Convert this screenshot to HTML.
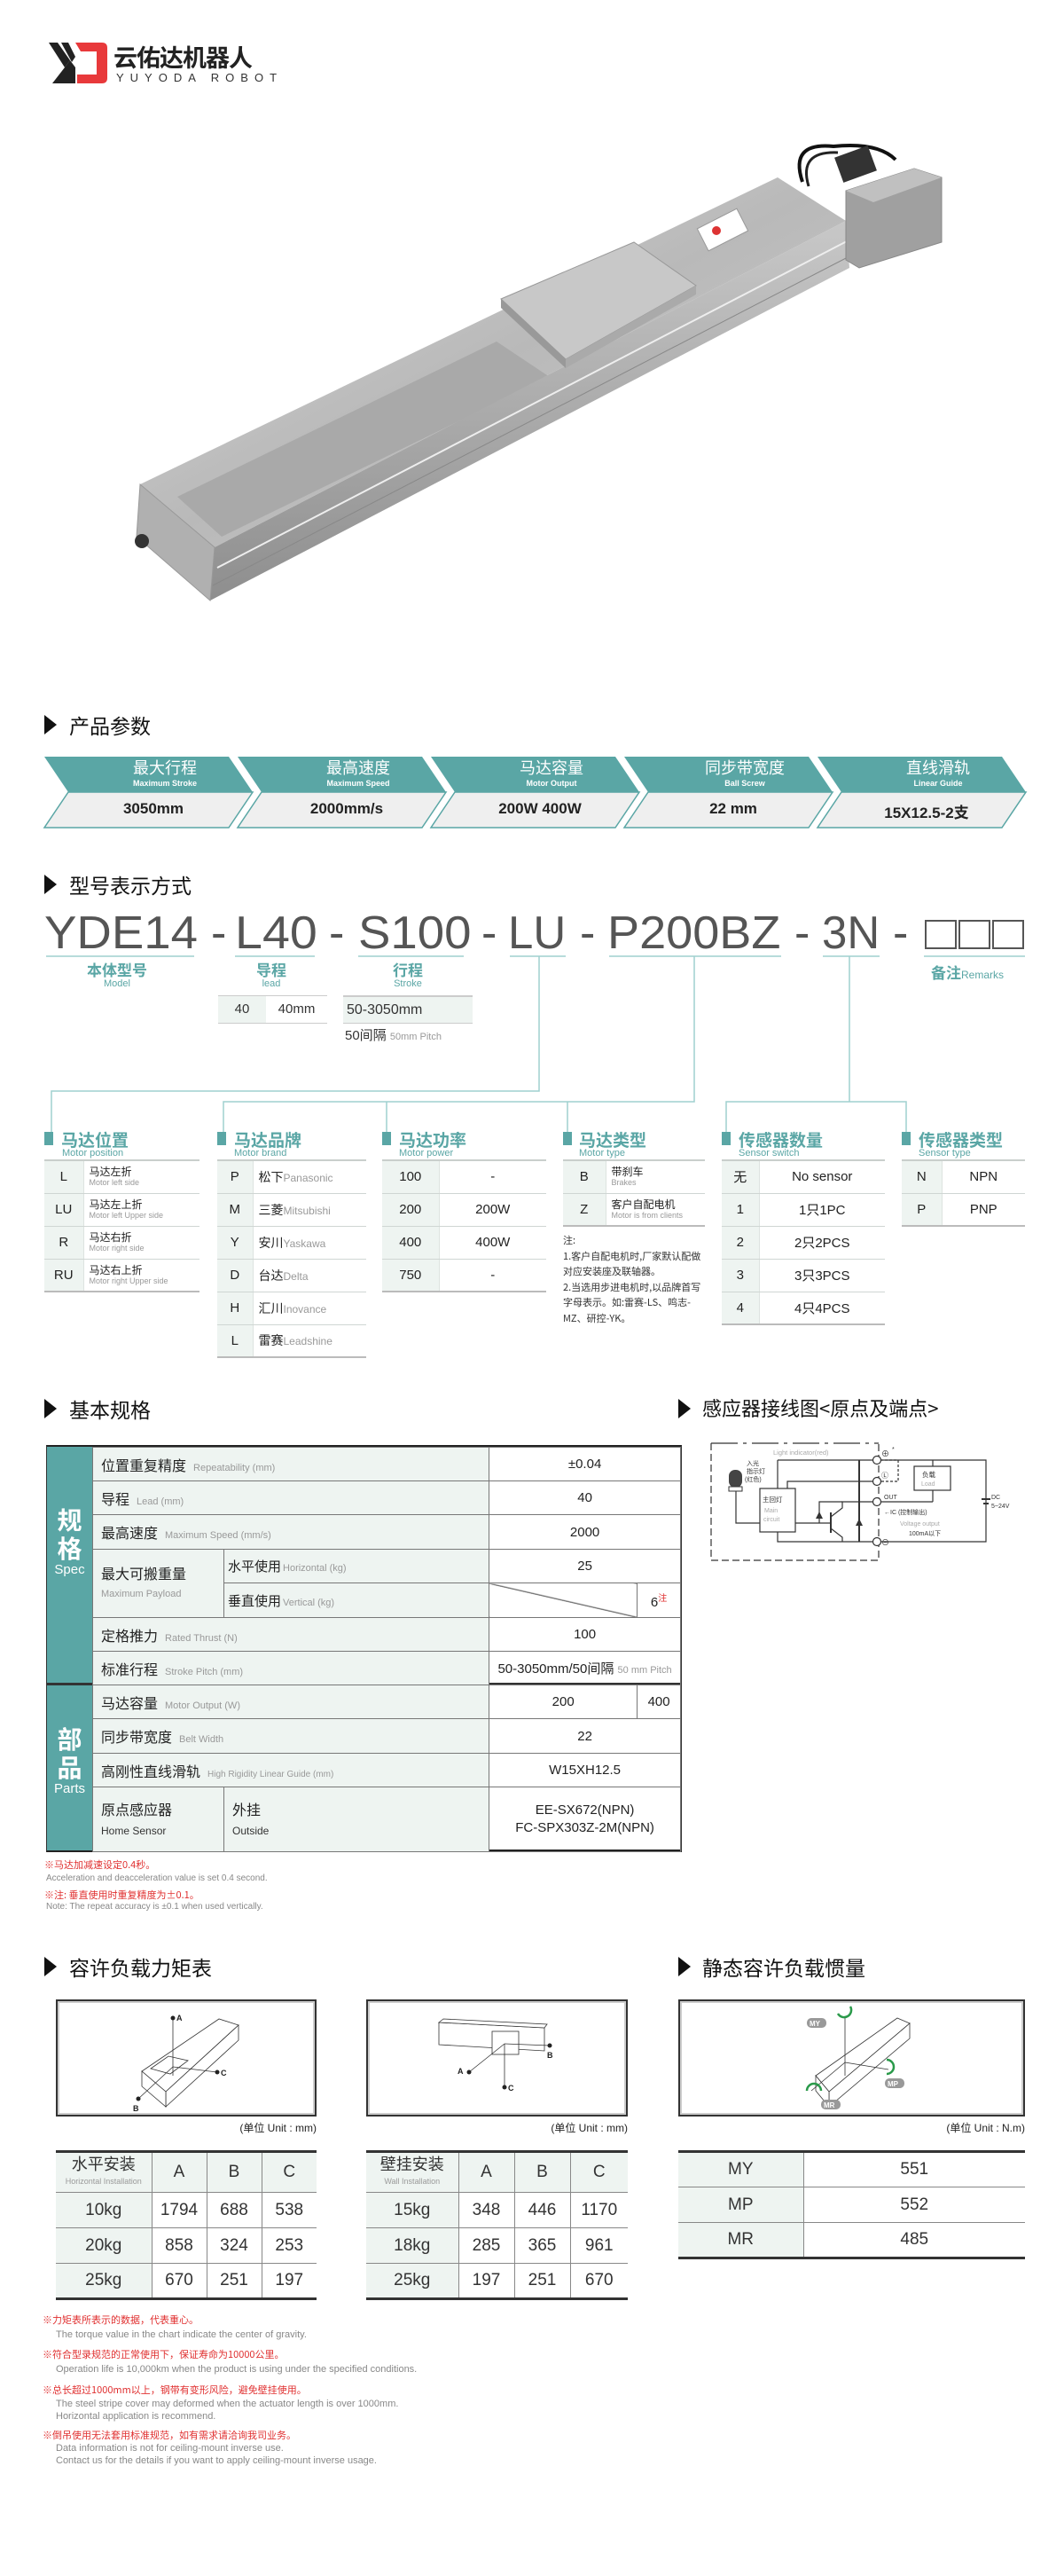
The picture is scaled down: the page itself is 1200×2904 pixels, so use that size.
<!DOCTYPE html>
<html><head><meta charset="utf-8">
<style>
*{margin:0;padding:0;box-sizing:border-box}
body{width:1200px;height:2904px;background:#fff;position:relative;font-family:"Liberation Sans","Noto Sans CJK SC",sans-serif;color:#222;overflow:hidden}
.a{position:absolute;white-space:nowrap}
.tt{font-size:23px;color:#111;font-family:"Noto Sans CJK SC",sans-serif}
.tri{position:absolute;width:0;height:0;border-top:11px solid transparent;border-bottom:11px solid transparent;border-left:14px solid #111}
.hd{font-family:"Noto Sans CJK SC",sans-serif;font-weight:bold;font-size:19px;color:#5aa6a5}
.hde{font-size:11px;color:#5aa6a5}
.mk{position:absolute;width:10px;height:15px;background:#5aa6a5}
table{border-collapse:collapse;position:absolute}
.mt td{border-bottom:1px solid #cfd6d3;height:37px;font-size:15px;vertical-align:middle}
.mt{border-top:2px solid #c9cfcc;border-bottom:2px solid #bbb}
.mt td.c{background:#eef4f1;text-align:center;border-right:1px solid #dde3e0}
.mt .cn{font-family:"Noto Sans CJK SC",sans-serif;font-size:12px;line-height:14px;display:block;color:#222}
.mt .en{font-size:9px;color:#999;display:block;line-height:11px}
.st td{border:1px solid #777;font-size:15px;text-align:center;vertical-align:middle}
.st td.l{background:#eef4f1;text-align:left;padding-left:9px;font-family:"Noto Sans CJK SC",sans-serif;font-size:16px}
.st .e{font-family:"Liberation Sans",sans-serif;font-size:11px;color:#999;margin-left:8px}
.lt td{border-bottom:1px solid #888;border-right:1px solid #888;text-align:center;font-size:19px;color:#333;height:40px}
.lt td.g{background:#eef4f1}
.lt{border-top:3px solid #333;border-bottom:3px solid #333}
.note{font-size:11px;color:#888;position:absolute;white-space:nowrap}
.red{color:#e03030;font-family:"Noto Sans CJK SC",sans-serif}
.ms span{position:absolute;transform-origin:0 0}
</style></head><body>

<!-- logo -->
<svg class="a" style="left:55px;top:46px" width="70" height="50" viewBox="0 0 70 50">
<polygon points="0,2 10,2 24,22 18,30" fill="#222"/>
<polygon points="14,2 22,2 30,18 26,24" fill="#222"/>
<polygon points="18,30 24,22 30,30 30,48 4,48" fill="#222"/>
<path d="M30 2 H60 Q66 2 66 8 V42 Q66 48 60 48 H32 V38 H54 V12 H36 Z" fill="#e8393b"/>
</svg>
<div class="a" style="left:128px;top:44px;font-size:27px;font-weight:bold;font-family:'Noto Sans CJK SC',sans-serif;color:#222;letter-spacing:-1px">云佑达机器人</div>
<div class="a" style="left:131px;top:80px;font-size:13px;letter-spacing:7px;color:#333">YUYODA ROBOT</div>

<!-- actuator -->
<svg class="a" style="left:0;top:0" width="1200" height="760">
<defs>
<linearGradient id="g1" x1="0" y1="0" x2="1" y2="1"><stop offset="0" stop-color="#d8d8d8"/><stop offset="0.5" stop-color="#b9b9b9"/><stop offset="1" stop-color="#cfcfcf"/></linearGradient>
<linearGradient id="g2" x1="0" y1="0" x2="0" y2="1"><stop offset="0" stop-color="#c8c8c8"/><stop offset="1" stop-color="#8e8e8e"/></linearGradient>
</defs>
<polygon points="158,546 877,200 954,249 242,617" fill="url(#g1)"/>
<polygon points="200,560 560,385 620,425 250,605" fill="#a9a9a9"/>
<polygon points="242,617 954,249 958,302 237,677" fill="url(#g2)"/>
<line x1="245" y1="640" x2="955" y2="272" stroke="#eee" stroke-width="2"/>
<line x1="240" y1="660" x2="956" y2="290" stroke="#888" stroke-width="1"/>
<polygon points="158,546 242,617 237,677 154,605" fill="#b0b0b0" stroke="#999"/>
<circle cx="160" cy="610" r="8" fill="#333"/>
<polygon points="565,337 715,273 785,322 638,405" fill="#c8c8c8" stroke="#999"/>
<polygon points="565,337 638,405 638,415 565,347" fill="#999"/>
<polygon points="638,405 785,322 785,332 638,415" fill="#aaa"/>
<rect x="790" y="245" width="50" height="28" fill="#fff" stroke="#999" transform="rotate(-27 815 259)"/>
<circle cx="808" cy="260" r="5" fill="#d33"/>
<polygon points="954,215 1031,190 1062,200 1062,273 969,302 954,293" fill="#a0a0a0" stroke="#888"/>
<polygon points="954,215 1031,190 1062,200 985,228" fill="#c0c0c0"/>
<path d="M905 205 Q890 160 940 165 Q990 160 1010 180" stroke="#111" stroke-width="4" fill="none"/>
<path d="M912 210 Q900 170 945 172" stroke="#222" stroke-width="3" fill="none"/>
<rect x="945" y="170" width="40" height="30" fill="#333" transform="rotate(-20 965 185)"/>
</svg>

<!-- 产品参数 -->
<div class="tri" style="left:50px;top:806px"></div>
<div class="a tt" style="left:78px;top:800px">产品参数</div>
<svg class="a" style="left:0;top:840px" width="1200" height="100">
<g transform="translate(0,-840)">
<g id="ch">
<polygon points="50,853 258,853 285,893 77,893" fill="#5aa6a5"/>
<polygon points="77,893 285,893 258,933 50,933" fill="#efefef" stroke="#5aa6a5" stroke-width="1.5"/>
</g>
<use href="#ch" x="218"/><use href="#ch" x="436"/><use href="#ch" x="654"/><use href="#ch" x="872"/>
</g></svg>
<div class="a" style="left:50px;top:852px;width:1090px;height:82px">
<div style="display:flex;position:absolute;left:27px;top:0">
<div style="width:218px;text-align:center;color:#fff"><div style="font-family:'Noto Sans CJK SC';font-size:18px;line-height:26px">最大行程</div><div style="font-size:9px;font-weight:bold">Maximum Stroke</div></div>
<div style="width:218px;text-align:center;color:#fff"><div style="font-family:'Noto Sans CJK SC';font-size:18px;line-height:26px">最高速度</div><div style="font-size:9px;font-weight:bold">Maximum Speed</div></div>
<div style="width:218px;text-align:center;color:#fff"><div style="font-family:'Noto Sans CJK SC';font-size:18px;line-height:26px">马达容量</div><div style="font-size:9px;font-weight:bold">Motor Output</div></div>
<div style="width:218px;text-align:center;color:#fff"><div style="font-family:'Noto Sans CJK SC';font-size:18px;line-height:26px">同步带宽度</div><div style="font-size:9px;font-weight:bold">Ball Screw</div></div>
<div style="width:218px;text-align:center;color:#fff"><div style="font-family:'Noto Sans CJK SC';font-size:18px;line-height:26px">直线滑轨</div><div style="font-size:9px;font-weight:bold">Linear Guide</div></div>
</div>
<div style="display:flex;position:absolute;left:14px;top:50px;font-size:17px;font-weight:bold;color:#222">
<div style="width:218px;text-align:center">3050mm</div>
<div style="width:218px;text-align:center">2000mm/s</div>
<div style="width:218px;text-align:center">200W 400W</div>
<div style="width:218px;text-align:center">22 mm</div>
<div style="width:218px;text-align:center;font-family:'Liberation Sans','Noto Sans CJK SC'">15X12.5-2支</div>
</div>
</div>

<!-- 型号表示方式 -->
<div class="tri" style="left:50px;top:986px"></div>
<div class="a tt" style="left:78px;top:980px">型号表示方式</div>
<div class="a ms" style="left:0;top:1024px;font-size:52px;color:#555;line-height:56px">
<span style="left:50px;transform:scaleX(1.05)">YDE14</span>
<span style="left:238px">-</span>
<span style="left:265px;transform:scaleX(1.07)">L40</span>
<span style="left:371px">-</span>
<span style="left:404px;transform:scaleX(1.05)">S100</span>
<span style="left:543px">-</span>
<span style="left:573px;transform:scaleX(0.98)">LU</span>
<span style="left:654px">-</span>
<span style="left:685px;transform:scaleX(1.04)">P200BZ</span>
<span style="left:896px">-</span>
<span style="left:927px;transform:scaleX(0.98)">3N</span>
<span style="left:1007px">-</span>
</div>
<div class="a" style="left:1043px;top:1037px;width:36px;height:33px;border:2px solid #555"></div>
<div class="a" style="left:1081px;top:1037px;width:36px;height:33px;border:2px solid #555"></div>
<div class="a" style="left:1119px;top:1037px;width:36px;height:33px;border:2px solid #555"></div>
<svg class="a" style="left:0;top:0" width="1200" height="1300">
<g stroke="#9fd0cf" stroke-width="1.5" fill="none">
<line x1="52" y1="1078" x2="219" y2="1078"/><line x1="265" y1="1078" x2="355" y2="1078"/>
<line x1="404" y1="1078" x2="523" y2="1078"/><line x1="575" y1="1078" x2="638" y2="1078"/>
<line x1="687" y1="1078" x2="881" y2="1078"/><line x1="928" y1="1078" x2="992" y2="1078"/>
<line x1="1042" y1="1078" x2="1156" y2="1078"/>
<polyline points="608,1078 608,1230 58,1230 58,1277"/>
<polyline points="783,1078 783,1242 252,1242 252,1277"/>
<line x1="436" y1="1242" x2="436" y2="1277"/><line x1="640" y1="1242" x2="640" y2="1277"/>
<polyline points="958,1078 958,1242"/>
<polyline points="819,1277 819,1242 1022,1242 1022,1277"/>
</g></svg>
<div class="a" style="left:92px;top:1083px;width:80px;text-align:center"><div class="hd" style="font-size:17px;line-height:20px">本体型号</div><div class="hde">Model</div></div>
<div class="a" style="left:276px;top:1083px;width:60px;text-align:center"><div class="hd" style="font-size:17px;line-height:20px">导程</div><div class="hde">lead</div></div>
<div class="a" style="left:430px;top:1083px;width:60px;text-align:center"><div class="hd" style="font-size:17px;line-height:20px">行程</div><div class="hde">Stroke</div></div>
<div class="a" style="left:1050px;top:1083px"><span class="hd" style="font-size:17px">备注</span><span class="hde" style="font-size:12px">Remarks</span></div>
<div class="a" style="left:246px;top:1122px;width:54px;height:32px;background:#eef4f1;border-top:1px solid #ccc;border-bottom:1px solid #ccc;text-align:center;line-height:30px;font-size:15px;color:#333">40</div>
<div class="a" style="left:300px;top:1122px;width:69px;height:32px;border-top:1px solid #ccc;border-bottom:1px solid #ccc;text-align:center;line-height:30px;font-size:15px;color:#333">40mm</div>
<div class="a" style="left:387px;top:1122px;width:146px;height:32px;background:#eef4f1;border-top:2px solid #ccc;border-bottom:1px solid #ccc;padding-left:4px;line-height:30px;font-size:16px;color:#333">50-3050mm</div>
<div class="a" style="left:389px;top:1156px;font-size:15px;color:#333;font-family:'Liberation Sans','Noto Sans CJK SC'">50间隔 <span style="font-size:11px;color:#999">50mm Pitch</span></div>

<!-- option headers -->
<div class="mk" style="left:50px;top:1276px"></div><div class="a hd" style="left:69px;top:1271px">马达位置</div><div class="a hde" style="left:70px;top:1294px">Motor position</div>
<div class="mk" style="left:245px;top:1276px"></div><div class="a hd" style="left:264px;top:1271px">马达品牌</div><div class="a hde" style="left:264px;top:1294px">Motor brand</div>
<div class="mk" style="left:431px;top:1276px"></div><div class="a hd" style="left:450px;top:1271px">马达功率</div><div class="a hde" style="left:450px;top:1294px">Motor power</div>
<div class="mk" style="left:635px;top:1276px"></div><div class="a hd" style="left:653px;top:1271px">马达类型</div><div class="a hde" style="left:653px;top:1294px">Motor type</div>
<div class="mk" style="left:814px;top:1276px"></div><div class="a hd" style="left:833px;top:1271px">传感器数量</div><div class="a hde" style="left:833px;top:1294px">Sensor switch</div>
<div class="mk" style="left:1017px;top:1276px"></div><div class="a hd" style="left:1036px;top:1271px">传感器类型</div><div class="a hde" style="left:1036px;top:1294px">Sensor type</div>

<table class="mt" style="left:50px;top:1307px;width:175px">
<tr><td class="c" style="width:44px">L</td><td style="padding-left:6px"><span class="cn">马达左折</span><span class="en">Motor left side</span></td></tr>
<tr><td class="c">LU</td><td style="padding-left:6px"><span class="cn">马达左上折</span><span class="en">Motor left Upper side</span></td></tr>
<tr><td class="c">R</td><td style="padding-left:6px"><span class="cn">马达右折</span><span class="en">Motor right side</span></td></tr>
<tr><td class="c">RU</td><td style="padding-left:6px"><span class="cn">马达右上折</span><span class="en">Motor right Upper side</span></td></tr>
</table>
<table class="mt" style="left:245px;top:1307px;width:168px">
<tr><td class="c" style="width:40px">P</td><td style="padding-left:6px"><span style="font-family:'Noto Sans CJK SC';font-size:14px">松下</span><span style="font-size:12px;color:#999">Panasonic</span></td></tr>
<tr><td class="c">M</td><td style="padding-left:6px"><span style="font-family:'Noto Sans CJK SC';font-size:14px">三菱</span><span style="font-size:12px;color:#999">Mitsubishi</span></td></tr>
<tr><td class="c">Y</td><td style="padding-left:6px"><span style="font-family:'Noto Sans CJK SC';font-size:14px">安川</span><span style="font-size:12px;color:#999">Yaskawa</span></td></tr>
<tr><td class="c">D</td><td style="padding-left:6px"><span style="font-family:'Noto Sans CJK SC';font-size:14px">台达</span><span style="font-size:12px;color:#999">Delta</span></td></tr>
<tr><td class="c">H</td><td style="padding-left:6px"><span style="font-family:'Noto Sans CJK SC';font-size:14px">汇川</span><span style="font-size:12px;color:#999">Inovance</span></td></tr>
<tr><td class="c">L</td><td style="padding-left:6px"><span style="font-family:'Noto Sans CJK SC';font-size:14px">雷赛</span><span style="font-size:12px;color:#999">Leadshine</span></td></tr>
</table>
<table class="mt" style="left:431px;top:1307px;width:185px">
<tr><td class="c" style="width:64px">100</td><td style="text-align:center">-</td></tr>
<tr><td class="c">200</td><td style="text-align:center">200W</td></tr>
<tr><td class="c">400</td><td style="text-align:center">400W</td></tr>
<tr><td class="c">750</td><td style="text-align:center">-</td></tr>
</table>
<table class="mt" style="left:635px;top:1307px;width:160px">
<tr><td class="c" style="width:48px">B</td><td style="padding-left:6px"><span class="cn">带刹车</span><span class="en">Brakes</span></td></tr>
<tr><td class="c">Z</td><td style="padding-left:6px"><span class="cn">客户自配电机</span><span class="en">Motor is from clients</span></td></tr>
</table>
<div class="a" style="left:635px;top:1390px;font-family:'Noto Sans CJK SC';font-size:11px;line-height:17.5px;color:#333;white-space:normal;width:165px">注:<br>1.客户自配电机时,厂家默认配做对应安装座及联轴器。<br>2.当选用步进电机时,以品牌首写字母表示。如:雷赛-LS、鸣志-MZ、研控-YK。</div>
<table class="mt" style="left:814px;top:1307px;width:184px">
<tr><td class="c" style="width:42px;font-family:'Noto Sans CJK SC'">无</td><td style="text-align:center">No sensor</td></tr>
<tr><td class="c">1</td><td style="text-align:center;font-family:'Liberation Sans','Noto Sans CJK SC'">1只1PC</td></tr>
<tr><td class="c">2</td><td style="text-align:center;font-family:'Liberation Sans','Noto Sans CJK SC'">2只2PCS</td></tr>
<tr><td class="c">3</td><td style="text-align:center;font-family:'Liberation Sans','Noto Sans CJK SC'">3只3PCS</td></tr>
<tr><td class="c">4</td><td style="text-align:center;font-family:'Liberation Sans','Noto Sans CJK SC'">4只4PCS</td></tr>
</table>
<table class="mt" style="left:1017px;top:1307px;width:139px">
<tr><td class="c" style="width:45px">N</td><td style="text-align:center">NPN</td></tr>
<tr><td class="c">P</td><td style="text-align:center">PNP</td></tr>
</table>

<!-- 基本规格 -->
<div class="tri" style="left:50px;top:1577px"></div>
<div class="a tt" style="left:78px;top:1571px">基本规格</div>
<div class="tri" style="left:765px;top:1577px"></div>
<div class="a tt" style="left:792px;top:1571px;font-size:22px">感应器接线图&lt;原点及端点&gt;</div>

<div class="a" style="left:52px;top:1629px;width:717px;height:459px;border-top:3px solid #222;border-bottom:3px solid #222;border-left:2px solid #333;border-right:2px solid #333"></div>
<div class="a" style="left:53px;top:1631px;width:51px;height:267px;background:#5aa6a5;color:#fff;text-align:center;padding-top:66px">
<div style="font-family:'Noto Sans CJK SC';font-weight:bold;font-size:28px;line-height:32px">规<br>格</div><div style="font-size:15px">Spec</div></div>
<div class="a" style="left:53px;top:1900px;width:51px;height:186px;background:#5aa6a5;color:#fff;text-align:center;padding-top:44px">
<div style="font-family:'Noto Sans CJK SC';font-weight:bold;font-size:28px;line-height:32px">部<br>品</div><div style="font-size:15px">Parts</div></div>
<div class="a" style="left:52px;top:1897px;width:717px;height:3px;background:#333"></div>
<table class="st" style="left:104px;top:1631px;width:664px">
<tr style="height:38px"><td class="l" colspan="2" style="width:333px">位置重复精度<span class="e">Repeatability (mm)</span></td><td colspan="2">±0.04</td></tr>
<tr style="height:38px"><td class="l" colspan="2">导程<span class="e">Lead (mm)</span></td><td colspan="2">40</td></tr>
<tr style="height:39px"><td class="l" colspan="2">最高速度<span class="e">Maximum Speed (mm/s)</span></td><td colspan="2">2000</td></tr>
<tr style="height:38px"><td class="l" rowspan="2" style="width:148px;line-height:20px">最大可搬重量<br><span class="e" style="margin:0">Maximum Payload</span></td><td class="l" style="font-size:15px;padding-left:4px">水平使用<span class="e" style="margin-left:2px">Horizontal (kg)</span></td><td colspan="2">25</td></tr>
<tr style="height:39px"><td class="l" style="font-size:15px;padding-left:4px">垂直使用<span class="e" style="margin-left:2px">Vertical (kg)</span></td><td style="width:167px;background:linear-gradient(to top right,transparent 49%,#555 50%,transparent 52%)"></td><td>6<sup style="color:#e03030;font-size:10px;font-family:'Noto Sans CJK SC'">注</sup></td></tr>
<tr style="height:38px"><td class="l" colspan="2">定格推力<span class="e">Rated Thrust (N)</span></td><td colspan="2">100</td></tr>
<tr style="height:38px"><td class="l" colspan="2">标准行程<span class="e">Stroke Pitch (mm)</span></td><td colspan="2" style="font-family:'Liberation Sans','Noto Sans CJK SC'">50-3050mm/50间隔 <span style="font-size:11px;color:#999">50 mm Pitch</span></td></tr>
<tr style="height:38px"><td class="l" colspan="2">马达容量<span class="e">Motor Output (W)</span></td><td>200</td><td>400</td></tr>
<tr style="height:39px"><td class="l" colspan="2">同步带宽度<span class="e">Belt Width</span></td><td colspan="2">22</td></tr>
<tr style="height:38px"><td class="l" colspan="2">高刚性直线滑轨<span class="e" style="font-size:10px">High Rigidity Linear Guide (mm)</span></td><td colspan="2">W15XH12.5</td></tr>
<tr style="height:73px"><td class="l" style="line-height:22px">原点感应器<br><span style="font-family:'Liberation Sans';font-size:12px;color:#333">Home Sensor</span></td><td class="l" style="line-height:22px">外挂<br><span style="font-family:'Liberation Sans';font-size:12px;color:#333">Outside</span></td><td colspan="2" style="line-height:20px">EE-SX672(NPN)<br>FC-SPX303Z-2M(NPN)</td></tr>
</table>
<div class="note red" style="left:50px;top:2094px;font-size:11px">※马达加减速设定0.4秒。</div>
<div class="note" style="left:52px;top:2112px;font-size:10px">Acceleration and deacceleration value is set 0.4 second.</div>
<div class="note red" style="left:50px;top:2128px;font-size:11px">※注: 垂直使用时重复精度为±0.1。</div>
<div class="note" style="left:52px;top:2144px;font-size:10px">Note: The repeat accuracy is ±0.1 when used vertically.</div>

<!-- wiring -->
<svg class="a" style="left:0;top:0" width="1200" height="1800" font-family="Liberation Sans,Noto Sans CJK SC,sans-serif">
<g stroke="#333" stroke-width="1.2" fill="none">
<polyline points="802,1627 802,1759 991,1759 991,1627" stroke-dasharray="8,4"/>
<line x1="802" y1="1627" x2="991" y2="1627" stroke-dasharray="30,6,4,6"/>
<polyline points="993,1646 1112,1646 1112,1738 993,1738"/>
<line x1="989" y1="1693" x2="1052" y2="1693"/><line x1="1052" y1="1646" x2="1052" y2="1653"/><line x1="1052" y1="1680" x2="1052" y2="1693"/>
<rect x="1031" y="1653" width="41" height="27"/>
<polyline points="993,1646 1013,1646 1013,1670 993,1670" stroke-dasharray="3,2"/>
<line x1="877" y1="1646" x2="985" y2="1646"/><line x1="877" y1="1646" x2="877" y2="1678"/>
<polyline points="888,1678 888,1670 985,1670"/>
<rect x="857" y="1678" width="40" height="49"/>
<polyline points="830,1681 830,1717 857,1717"/>
<polyline points="877,1727 877,1738 985,1738"/>
<line x1="897" y1="1717" x2="937" y2="1717"/>
<line x1="937" y1="1705" x2="937" y2="1728" stroke-width="2"/>
<polyline points="937,1710 950,1700 950,1693 985,1693"/>
<polyline points="937,1723 950,1733 950,1738"/>
<polyline points="924,1717 924,1693 950,1693"/>
<line x1="969" y1="1646" x2="969" y2="1738" stroke-width="2"/>
</g>
<g fill="#fff" stroke="#333" stroke-width="1.2"><circle cx="989" cy="1646" r="4.5"/><circle cx="989" cy="1670" r="4.5"/><circle cx="989" cy="1693" r="4.5"/><circle cx="989" cy="1738" r="4.5"/></g>
<polygon points="920,1712 928,1712 924,1704" fill="#333"/><polygon points="965,1720 973,1720 969,1712" fill="#333"/>
<rect x="822" y="1657" width="15" height="20" rx="7" fill="#444"/><rect x="822" y="1676" width="15" height="5" fill="#fff" stroke="#333"/>
<line x1="1107" y1="1690" x2="1117" y2="1690" stroke="#333" stroke-width="2"/><line x1="1109" y1="1695" x2="1115" y2="1695" stroke="#333" stroke-width="2"/>
<g font-size="7" fill="#333">
<text x="872" y="1640" fill="#aaa" font-size="7.5">Light indicator(red)</text>
<text x="842" y="1652" font-size="7">入光</text><text x="842" y="1661">指示灯</text><text x="840" y="1670">(红色)</text>
<text x="860" y="1693" font-size="7.5">主回灯</text><text x="862" y="1705" fill="#aaa">Main</text><text x="861" y="1715" fill="#aaa">circuit</text>
<text x="1040" y="1665" font-size="7.5">负载</text><text x="1039" y="1675" fill="#aaa">Load</text>
<text x="997" y="1690">OUT</text><text x="997" y="1707">←IC (控制输出)</text>
<text x="1015" y="1720" fill="#aaa">Voltage output</text><text x="1025" y="1731">100mA以下</text>
<text x="1118" y="1690">DC</text><text x="1118" y="1700">5~24V</text>
<text x="994" y="1642" font-size="9">⊕</text><text x="1006" y="1636">*</text><text x="994" y="1666" font-size="8">Ⓛ</text><text x="994" y="1742" font-size="9">⊖</text>
</g>
</svg>

<!-- 容许负载力矩表 -->
<div class="tri" style="left:50px;top:2206px"></div>
<div class="a tt" style="left:78px;top:2200px">容许负载力矩表</div>
<div class="tri" style="left:765px;top:2206px"></div>
<div class="a tt" style="left:792px;top:2200px">静态容许负载惯量</div>
<div class="a" style="left:63px;top:2254px;width:294px;height:132px;border:2px solid #333;box-shadow:inset 0 0 0 2px #ccc"></div>
<div class="a" style="left:413px;top:2254px;width:295px;height:132px;border:2px solid #333;box-shadow:inset 0 0 0 2px #ccc"></div>
<div class="a" style="left:765px;top:2254px;width:391px;height:132px;border:2px solid #333;box-shadow:inset 0 0 0 2px #ccc"></div>
<svg class="a" style="left:0;top:0" width="1200" height="2400" font-family="Liberation Sans,sans-serif" font-size="9" font-weight="bold">
<g stroke="#333" stroke-width="0.8" fill="#fff">
<polygon points="160,2335 247,2276 269,2283 187,2358"/>
<polygon points="187,2358 269,2283 269,2300 187,2375"/>
<polygon points="160,2335 187,2358 187,2375 160,2352"/>
<polygon points="170,2332 190,2318 212,2323 192,2338"/>
<line x1="195" y1="2340" x2="195" y2="2275"/><line x1="195" y1="2330" x2="245" y2="2336"/><line x1="195" y1="2330" x2="156" y2="2366"/>
<polygon points="495,2280 614,2286 614,2312 495,2305"/>
<polygon points="495,2280 500,2276 617,2282 614,2286"/>
<rect x="555" y="2290" width="30" height="26"/>
<line x1="569" y1="2304" x2="620" y2="2306"/><line x1="569" y1="2304" x2="529" y2="2336"/><line x1="569" y1="2304" x2="569" y2="2353"/>
<polygon points="920,2340 1012,2275 1026,2281 935,2358"/>
<polygon points="935,2358 1026,2281 1026,2298 935,2375"/>
<polygon points="920,2340 935,2358 935,2375 920,2357"/>
<line x1="953" y1="2340" x2="953" y2="2275"/><line x1="953" y1="2325" x2="1002" y2="2333"/><line x1="953" y1="2325" x2="915" y2="2357"/>
</g>
<g fill="#222"><circle cx="195" cy="2275" r="2.5"/><circle cx="245" cy="2336" r="2.5"/><circle cx="156" cy="2366" r="2.5"/>
<circle cx="620" cy="2306" r="2.5"/><circle cx="529" cy="2336" r="2.5"/><circle cx="569" cy="2353" r="2.5"/>
<text x="199" y="2278">A</text><text x="249" y="2340">C</text><text x="150" y="2380">B</text>
<text x="617" y="2320">B</text><text x="516" y="2338">A</text><text x="573" y="2357">C</text></g>
<g fill="none" stroke="#2a9a4a" stroke-width="2.5"><path d="M945 2270 a8 8 0 1 0 14 -8"/><path d="M1000 2322 a8 8 0 1 1 0 16"/><path d="M910 2357 a8 8 0 1 1 16 0"/></g>
<g font-size="8" fill="#fff"><rect x="910" y="2275" width="22" height="11" rx="5" fill="#999"/><text x="913" y="2284">MY</text>
<rect x="998" y="2343" width="22" height="11" rx="5" fill="#999"/><text x="1001" y="2352">MP</text>
<rect x="926" y="2367" width="22" height="11" rx="5" fill="#999"/><text x="929" y="2376">MR</text></g>
</svg>
<div class="a" style="left:247px;top:2390px;width:110px;text-align:right;font-size:12px;font-family:'Liberation Sans','Noto Sans CJK SC'">(单位 Unit : mm)</div>
<div class="a" style="left:598px;top:2390px;width:110px;text-align:right;font-size:12px;font-family:'Liberation Sans','Noto Sans CJK SC'">(单位 Unit : mm)</div>
<div class="a" style="left:1026px;top:2390px;width:130px;text-align:right;font-size:12px;font-family:'Liberation Sans','Noto Sans CJK SC'">(单位 Unit : N.m)</div>

<table class="lt" style="left:63px;top:2424px;width:294px">
<tr style="height:46px"><td class="g" style="width:108px;line-height:16px"><span style="font-family:'Noto Sans CJK SC';font-size:18px">水平安装</span><br><span style="font-size:9px;color:#999">Horizontal Installation</span></td><td class="g" style="width:62px">A</td><td class="g" style="width:62px">B</td><td class="g" style="border-right:0">C</td></tr>
<tr><td class="g">10kg</td><td>1794</td><td>688</td><td style="border-right:0">538</td></tr>
<tr><td class="g">20kg</td><td>858</td><td>324</td><td style="border-right:0">253</td></tr>
<tr><td class="g" style="border-bottom:0">25kg</td><td style="border-bottom:0">670</td><td style="border-bottom:0">251</td><td style="border:0">197</td></tr>
</table>
<table class="lt" style="left:413px;top:2424px;width:295px">
<tr style="height:46px"><td class="g" style="width:104px;line-height:16px"><span style="font-family:'Noto Sans CJK SC';font-size:18px">壁挂安装</span><br><span style="font-size:9px;color:#999">Wall Installation</span></td><td class="g" style="width:63px">A</td><td class="g" style="width:63px">B</td><td class="g" style="border-right:0">C</td></tr>
<tr><td class="g">15kg</td><td>348</td><td>446</td><td style="border-right:0">1170</td></tr>
<tr><td class="g">18kg</td><td>285</td><td>365</td><td style="border-right:0">961</td></tr>
<tr><td class="g" style="border-bottom:0">25kg</td><td style="border-bottom:0">197</td><td style="border-bottom:0">251</td><td style="border:0">670</td></tr>
</table>
<table class="lt" style="left:765px;top:2424px;width:391px">
<tr style="height:36px"><td class="g" style="width:141px">MY</td><td style="border-right:0">551</td></tr>
<tr style="height:36px"><td class="g">MP</td><td style="border-right:0">552</td></tr>
<tr style="height:36px"><td class="g" style="border-bottom:0">MR</td><td style="border:0">485</td></tr>
</table>

<div class="note red" style="left:48px;top:2607px">※力矩表所表示的数据，代表重心。</div>
<div class="note" style="left:63px;top:2626px">The torque value in the chart indicate the center of gravity.</div>
<div class="note red" style="left:48px;top:2646px">※符合型录规范的正常使用下，保证寿命为10000公里。</div>
<div class="note" style="left:63px;top:2665px">Operation life is 10,000km when the product is using under the specified conditions.</div>
<div class="note red" style="left:48px;top:2686px">※总长超过1000mm以上，钢带有变形风险，避免壁挂使用。</div>
<div class="note" style="left:63px;top:2704px">The steel stripe cover may deformed when the actuator length is over 1000mm.</div>
<div class="note" style="left:63px;top:2718px">Horizontal application is recommend.</div>
<div class="note red" style="left:48px;top:2737px">※倒吊使用无法套用标准规范，如有需求请洽询我司业务。</div>
<div class="note" style="left:63px;top:2754px">Data information is not for ceiling-mount inverse use.</div>
<div class="note" style="left:63px;top:2768px">Contact us for the details if you want to apply ceiling-mount inverse usage.</div>
</body></html>
